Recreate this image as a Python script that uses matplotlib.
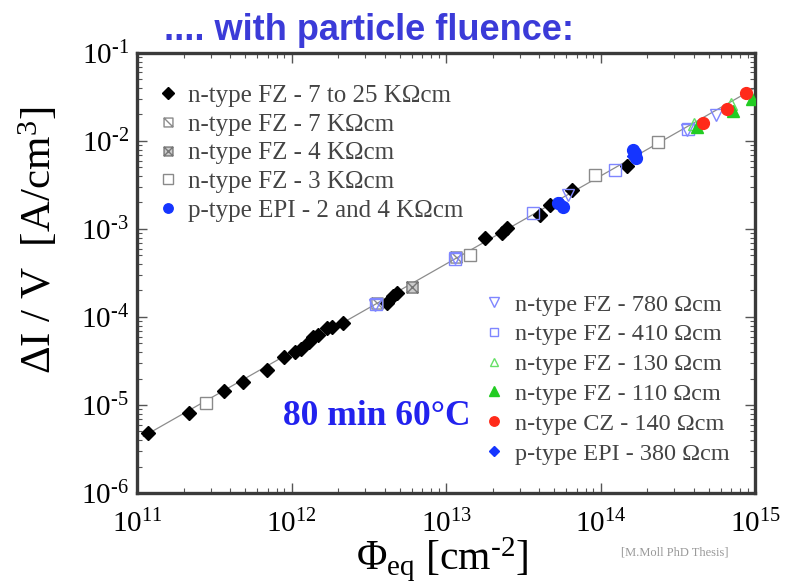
import matplotlib
matplotlib.use("Agg")
import matplotlib.pyplot as plt
from matplotlib.path import Path
from matplotlib.lines import Line2D
from matplotlib.ticker import FuncFormatter
import numpy as np

plt.rcParams['font.family'] = ['Liberation Serif', 'DejaVu Serif']
plt.rcParams['mathtext.fontset'] = 'custom'
plt.rcParams['mathtext.rm'] = 'Liberation Serif'
plt.rcParams['mathtext.it'] = 'Liberation Serif:italic'
plt.rcParams['mathtext.default'] = 'regular'

# data (fluence in cm^-2, dI/V in A/cm^3)
fz_hi_phi = [1.18e11, 2.18e11, 3.67e11, 4.83e11, 6.97e11, 8.93e11, 1.05e12, 1.16e12,
             1.29e12, 1.38e12, 1.49e12, 1.69e12, 1.82e12, 2.16e12, 4.17e12, 4.57e12,
             4.80e12, 1.79e13, 2.30e13, 2.47e13, 4.06e13, 4.71e13, 6.52e13, 1.48e14]
fz_hi_I = [4.76e-6, 8.17e-6, 1.45e-5, 1.81e-5, 2.50e-5, 3.48e-5, 4.04e-5, 4.30e-5,
           5.24e-5, 5.97e-5, 6.24e-5, 7.45e-5, 7.76e-5, 8.47e-5, 1.43e-4, 1.74e-4,
           1.86e-4, 7.83e-4, 8.93e-4, 1.02e-3, 1.44e-3, 1.87e-3, 2.77e-3, 5.20e-3]

fz7k_phi = [3.6e12, 1.16e13]
fz7k_I = [1.44e-4, 4.75e-4]
fz4k_phi = [6.0e12]
fz4k_I = [2.18e-4]
fz3k_phi = [2.80e11, 1.43e13, 9.20e13, 2.37e14]
fz3k_I = [1.06e-5, 5.07e-4, 4.11e-3, 9.82e-3]
epi_hi_phi = [5.33e13, 5.74e13, 1.62e14, 1.67e14, 1.70e14]
epi_hi_I = [1.96e-3, 1.79e-3, 7.80e-3, 7.24e-3, 6.35e-3]

fz780_phi = [3.47e12, 1.14e13, 6.19e13, 3.61e14, 5.60e14]
fz780_I = [1.37e-4, 4.68e-4, 2.43e-3, 1.33e-2, 1.97e-2]
fz410_phi = [3.50e12, 1.15e13, 3.67e13, 1.24e14, 3.70e14]
fz410_I = [1.40e-4, 4.60e-4, 1.51e-3, 4.62e-3, 1.38e-2]
fz130_phi = [4.0e14, 7.0e14]
fz130_I = [1.55e-2, 2.60e-2]
fz110_phi = [4.20e14, 7.24e14, 9.50e14]
fz110_I = [1.45e-2, 2.21e-2, 2.98e-2]
cz140_phi = [4.62e14, 6.56e14, 8.71e14]
cz140_I = [1.61e-2, 2.31e-2, 3.54e-2]
epi380_phi = [5.5e13, 1.65e14]
epi380_I = [1.90e-3, 6.80e-3]

fit_phi = [1.1e11, 1.0e15]
fit_I = [4.4e-6, 4.0e-2]

# box with cross / box with slash markers
M, L, C = Path.MOVETO, Path.LINETO, Path.CLOSEPOLY
box = [(-1, -1), (1, -1), (1, 1), (-1, 1), (-1, -1)]
box_x = Path(box + [(-1, -1), (1, 1), (-1, 1), (1, -1)], [M, L, L, L, C, M, L, M, L])
box_s = Path(box + [(-1, 1), (1, -1)], [M, L, L, L, C, M, L])

fig = plt.figure(figsize=(7.86, 5.86), dpi=100)
ax = fig.add_axes([0.1743, 0.1587, 0.7863, 0.7509])

ax.plot(fit_phi, fit_I, color='#8c8c8c', lw=0.9, zorder=1)

gray = '#8a8a8a'
lblue = '#7f86ff'
blue = '#1535ff'
styles = [
    (fz_hi_phi, fz_hi_I, dict(marker='D', color='black', ms=7.5, ls='none')),
    (fz7k_phi, fz7k_I, dict(marker=box_s, mec=gray, mfc='none', ms=8, mew=1, ls='none')),
    (fz4k_phi, fz4k_I, dict(marker=box_x, mec='#777777', mfc='#cccccc', ms=8, mew=1, ls='none')),
    (fz3k_phi, fz3k_I, dict(marker='s', mec=gray, mfc='white', ms=9, mew=1, ls='none')),
    (epi_hi_phi, epi_hi_I, dict(marker='o', color=blue, ms=8.5, ls='none')),
    (fz780_phi, fz780_I, dict(marker='v', mec=lblue, mfc='none', ms=9, mew=1, ls='none')),
    (fz410_phi, fz410_I, dict(marker='s', mec=lblue, mfc='none', ms=8, mew=1, ls='none')),
    (fz130_phi, fz130_I, dict(marker='^', mec='#66e066', mfc='none', ms=8, mew=1, ls='none')),
    (fz110_phi, fz110_I, dict(marker='^', color='#22cc22', ms=8.5, ls='none')),
    (cz140_phi, cz140_I, dict(marker='o', color='#ff2a1a', ms=8.5, ls='none')),
    (epi380_phi, epi380_I, dict(marker='D', color=blue, ms=7, ls='none')),
]
for xs, ys, kw in styles:
    ax.plot(xs, ys, zorder=3, **kw)

ax.set_xscale('log')
ax.set_yscale('log')
ax.set_xlim(1e11, 1e15)
ax.set_ylim(1e-6, 1e-1)

# plain hyphen in the exponent, like the original
fmt = FuncFormatter(lambda v, p: r'$10^{\text{%d}}$' % int(round(np.log10(v))))
ax.xaxis.set_major_formatter(fmt)
ax.yaxis.set_major_formatter(fmt)

for s in ax.spines.values():
    s.set_linewidth(2.4)
    s.set_color('#3a3a3a')
ax.tick_params(which='both', direction='in', top=True, right=True, color='#555555')
ax.tick_params(which='major', length=7, width=1, labelsize=21, pad=6)
ax.tick_params(axis='x', which='major', pad=12)
ax.tick_params(which='minor', length=3.5, width=0.8)

ax.set_xlabel(r'$\Phi_{\rm eq}$ [cm$^{\text{-2}}$]', fontsize=30)
ax.xaxis.set_label_coords(0.494, -0.098)
ax.set_ylabel(r'$\Delta$I / V  [A/cm$^3$]', fontsize=31)
ax.yaxis.set_label_coords(-0.125, 0.575)

# legends
labels1 = ['n-type FZ - 7 to 25 K\u03a9cm', 'n-type FZ - 7 K\u03a9cm', 'n-type FZ - 4 K\u03a9cm',
           'n-type FZ - 3 K\u03a9cm', 'p-type EPI - 2 and 4 K\u03a9cm']
labels2 = ['n-type FZ - 780 \u03a9cm', 'n-type FZ - 410 \u03a9cm', 'n-type FZ - 130 \u03a9cm',
           'n-type FZ - 110 \u03a9cm', 'n-type CZ - 140 \u03a9cm', 'p-type EPI - 380 \u03a9cm']
handles = []
for xs, ys, kw in styles:
    k = dict(kw)
    k['ms'] = k.get('ms', 7) * 0.8
    handles.append(Line2D([], [], **k))

leg1 = ax.legend(handles[:5], labels1, loc='upper left', bbox_to_anchor=(0.2005, 0.856),
                 bbox_transform=fig.transFigure, frameon=False, prop={'size': 18},
                 handlelength=0.85, handletextpad=0.35, labelspacing=0.25,
                 borderpad=0, borderaxespad=0, labelcolor='#444444')
ax.add_artist(leg1)
ax.legend(handles[5:], labels2, loc='upper left', bbox_to_anchor=(0.614, 0.499),
          bbox_transform=fig.transFigure, frameon=False, prop={'size': 17.5},
          handlelength=0.9, handletextpad=0.45, labelspacing=0.32,
          borderpad=0, borderaxespad=0, labelcolor='#444444')

ax.text(0.236, 0.155, '80 min 60\u00b0C', transform=ax.transAxes, fontsize=25.5,
        fontweight='bold', color='#2222ee')

fig.text(0.469, 0.948, '.... with particle fluence:', ha='center', va='center',
         fontsize=26, fontweight='bold', color='#3b3bd8', family='Liberation Sans')
fig.text(0.859, 0.058, '[M.Moll PhD Thesis]', ha='center', va='center', fontsize=9,
         color='#999999')

fig.savefig('out.png', dpi=100)
